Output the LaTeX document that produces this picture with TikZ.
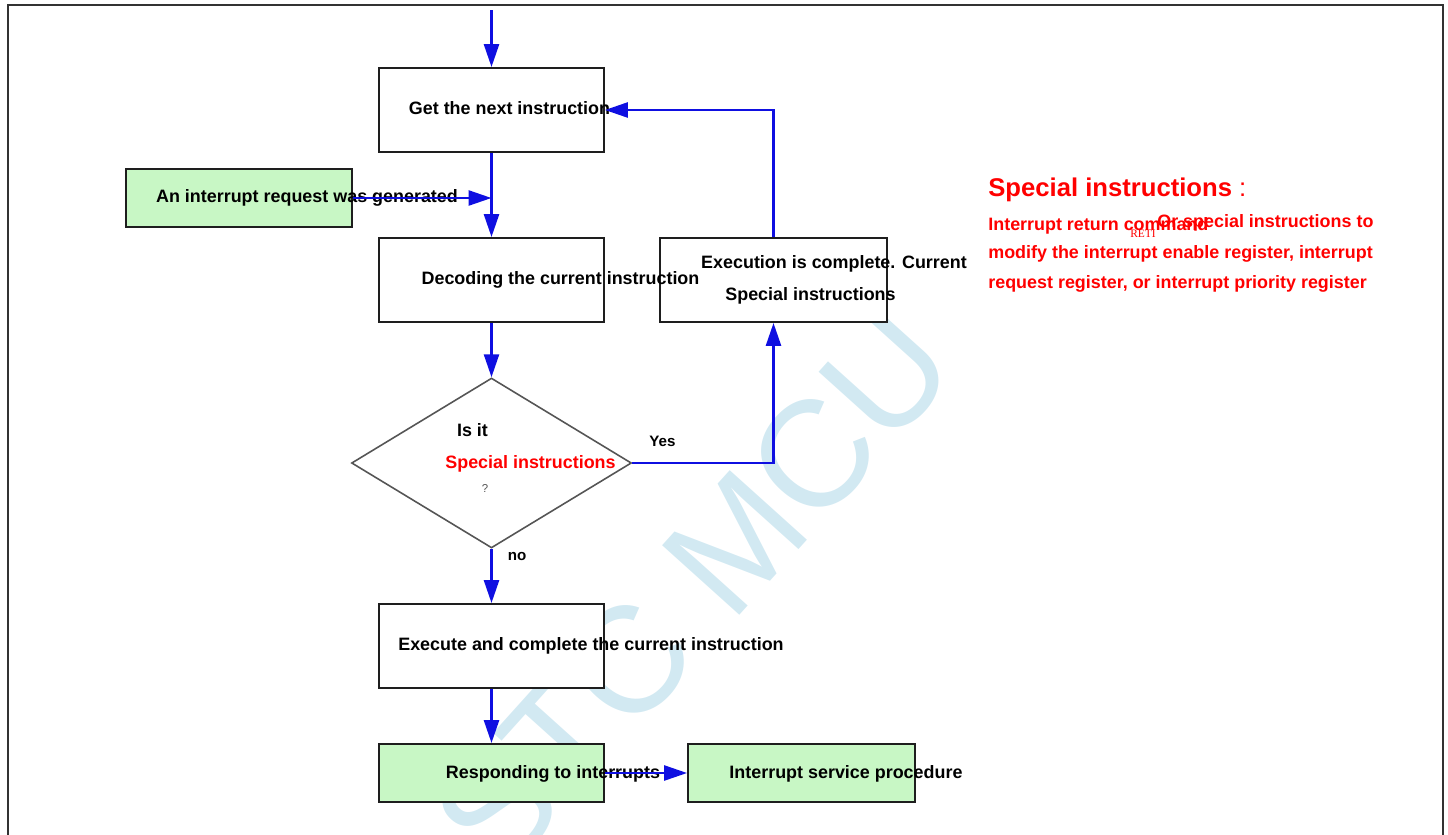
\documentclass[tikz,border=0pt]{standalone}
\usepackage{fontspec}
\setmainfont{Liberation Sans}
\newfontfamily\smallserif{Liberation Serif}
\usetikzlibrary{shapes.geometric,arrows.meta}
\definecolor{flowblue}{RGB}{15,15,225}
\definecolor{boxline}{RGB}{30,30,30}
\definecolor{dialine}{RGB}{85,85,85}
\definecolor{okgreen}{RGB}{200,247,197}
\definecolor{wmblue}{RGB}{210,233,242}
\definecolor{framegray}{RGB}{50,50,50}
\begin{document}
\begin{tikzpicture}[x=0.02cm,y=-0.02cm,
  box/.style={draw=boxline,line width=1.1pt,fill=white,minimum width=4.5cm,minimum height=1.68cm,inner sep=0pt},
  gbox/.style={box,fill=okgreen,minimum height=1.16cm},
  txt/.style={font=\bfseries\fontsize{10.2}{12}\selectfont,inner sep=0pt,text height=1.6ex,text depth=0.4ex},
  small/.style={font=\bfseries\fontsize{8.6}{10}\selectfont,inner sep=0pt},
  note/.style={txt,text=red,anchor=west},
  flow/.style={draw=flowblue,line width=1.4pt,-{Triangle[length=13pt,width=8.5pt]}}]
\useasboundingbox (0,0) rectangle (1448,835);
% 水印
\node[text=wmblue,rotate=48,font=\fontsize{86}{86}\selectfont,inner sep=0pt] (wm) at (693,590) {STC MCU};
% 外框
\draw[framegray,line width=1.1pt] (8,845) -- (8,5) -- (1443,5) -- (1443,845);
% 方框
\node[box] (getins) at (491.5,110) {};
\node[gbox,minimum width=4.52cm] (irq) at (239,198) {};
\node[box] (decode) at (491.5,280) {};
\node[box,minimum width=4.54cm] (done) at (773.5,280) {};
\node[draw=dialine,line width=0.9pt,fill=white,diamond,inner sep=0pt,minimum width=5.6cm,minimum height=3.4cm] (check) at (491.5,463) {};
\node[box] (exec) at (491.5,646) {};
\node[gbox] (resp) at (491.5,773) {};
\node[gbox,minimum width=4.54cm] (isr) at (801.5,773) {};
% 文字
\node[txt] at (509.5,109) {Get the next instruction};
\node[txt] at (307,197) {An interrupt request was generated};
\node[txt] at (560.5,279) {Decoding the current instruction};
\node[txt] at (834,263) {Execution is complete. Current};
\node[txt] at (810.5,295) {Special instructions};
\node[txt] at (472.5,431) {Is it};
\node[txt,text=red] at (530.5,463) {Special instructions};
\node[inner sep=0pt,text=dialine,font=\fontsize{6.5}{7}\selectfont] at (485,489) {?};
\node[small] at (662.5,441) {Yes};
\node[small] at (517,556) {no};
\node[txt] at (591,645) {Execute and complete the current instruction};
\node[txt] at (553,773) {Responding to interrupts};
\node[txt] at (846,773) {Interrupt service procedure};
% 右侧说明
\node[note,font=\bfseries\fontsize{14.6}{16}\selectfont] at (988,191) {Special instructions {\mdseries :}};
\node[note] at (988,225) {Interrupt return command};
\node[note] at (1157,222) {Or special instructions to};
\node[text=red,inner sep=0pt,font=\smallserif\fontsize{6.5}{7}\selectfont] at (1143,234) {RETI};
\node[note] at (988,253) {modify the interrupt enable register, interrupt};
\node[note] at (988,283) {request register, or interrupt priority register};
% 连线
\coordinate (top) at (491.5,10);
\draw[flow] (top) -- (getins.north);
\draw[flow] (getins.south) -- (decode.north);
\draw[flow] (irq.east) -- (irq.east -| getins.south);
\draw[flow] (done.north) |- (getins.east);
\draw[flow] (decode.south) -- (check.north);
\draw[flow] (check.east) -| (done.south);
\draw[flow] (check.south) -- (exec.north);
\draw[flow] (exec.south) -- (resp.north);
\draw[flow] (resp.east) -- (isr.west);
\end{tikzpicture}
\end{document}
